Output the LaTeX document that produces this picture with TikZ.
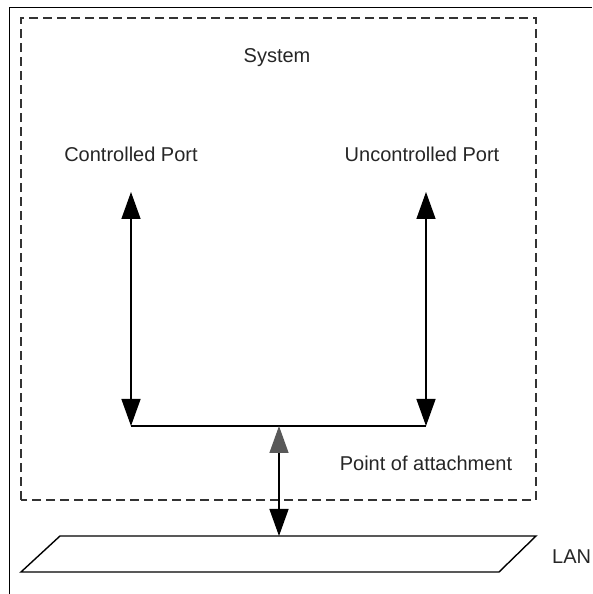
\documentclass[tikz,border=0pt]{standalone}
\usepackage{fontspec}
\setmainfont{Liberation Sans}
\usetikzlibrary{arrows.meta}
\usetikzlibrary{positioning}

\begin{document}
\begin{tikzpicture}[x=1pt,y=1pt,<->,>={Triangle[length=27pt,width=19pt]},line width=1.4pt]
            % 设置样式
            \tikzstyle{every node}=[font=\fontsize{20}{24}\selectfont,text=black!85]
            \tikzstyle{sysbox}=[draw=black!80,dash pattern=on 9pt off 5pt,line width=1.6pt]
            \tikzset{greytip/.tip={Triangle[length=27pt,width=19pt,color=black!65]}}
            \useasboundingbox (0,0) rectangle (592,594);

            % 外框和系统框
            \draw[-,line width=1pt] (9,0) -- (9,586) -- (592,586);
            \draw[-,sysbox] (21,94) rectangle (536,576);

            % 定义节点
            \node (sys) at (277,536) {System};
            \node (cport) at (131,440) {Controlled Port};
            \node (uport) at (422,440) {Uncontrolled Port};
            \node (attach) at (426,131) {Point of attachment};
            \node[anchor=west,inner sep=0.5pt] (lan) at (551,37) {LAN};

            \coordinate (ctop) at (131,402);
            \coordinate (cbot) at (131,168);
            \coordinate (utop) at (426,402);
            \coordinate (ubot) at (426,168);
            \coordinate (poa) at (279,168);
            \coordinate (lantop) at (279,58);

            % LAN
            \draw[-] (21,22) -- (60,58) -- (536,58) -- (499,22) -- cycle;

            % 定义路径
            \draw (ctop) -- (cbot);
            \draw (utop) -- (ubot);
            \draw[-] (cbot) -- (ubot);
            \draw[greytip->] (poa) -- (lantop);
        \end{tikzpicture}
\end{document}
